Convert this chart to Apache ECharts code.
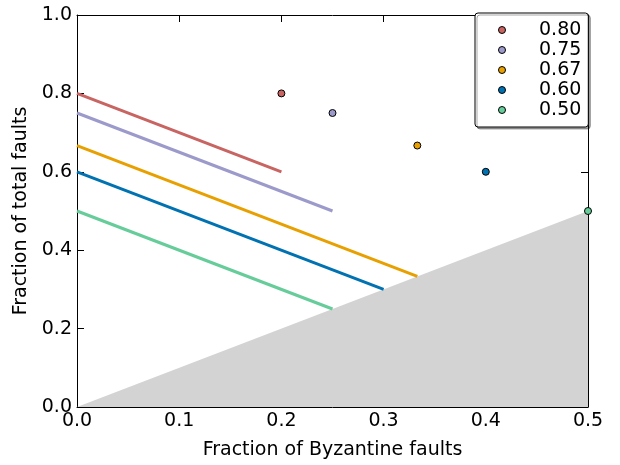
<!DOCTYPE html>
<html>
<head>
    <meta charset="utf-8">
    <title>Byzantine faults</title>
    <script src="https://cdn.jsdelivr.net/npm/echarts@6/dist/echarts.min.js"></script>
</head>
<body style="margin:0">
    <div id="main" style="width: 620px;height:465px;"></div>
    <script>
        // legend names, colours and the data
        var names = ['0.80', '0.75', '0.67', '0.60', '0.50'];
        var colors = ['#c86462', '#9c9acb', '#e8a000', '#0072b2', '#66cc99'];
        var lineStarts = [[0, 0.8], [0, 0.75], [0, 0.667], [0, 0.6], [0, 0.5]];
        var lineEnds = [[0.2, 0.6], [0.25, 0.5], [0.333, 0.333], [0.3, 0.3], [0.25, 0.25]];
        var points = [[0.2, 0.8], [0.25, 0.75], [0.333, 0.667], [0.4, 0.6], [0.5, 0.5]];
        var shade = [[0, 0], [0.5, 0.5]];
        var xTicks = [0, 0.1, 0.2, 0.3, 0.4, 0.5];
        var yTicks = [0, 0.2, 0.4, 0.6, 0.8, 1.0];

        var font = 'DejaVu Sans';
        var chart = echarts.init(document.getElementById('main'));

        var tickStyle = { inside: true, length: 7, lineStyle: { color: '#000' } };
        var lineAx = { onZero: false, lineStyle: { color: '#000', width: 1 } };
        var lbl = { color: '#000', fontFamily: font, fontSize: 19, margin: 5,
            formatter: function (v) { return v.toFixed(1); } };

        var series = [{
            name: 'shade',
            type: 'line',
            data: shade,
            symbol: 'none',
            lineStyle: { width: 0 },
            areaStyle: { color: '#d3d3d3', opacity: 1 },
            silent: true,
            z: 1
        }];
        names.forEach(function (n, i) {
            series.push({
                name: 'line ' + n,
                type: 'line',
                data: [lineStarts[i], lineEnds[i]],
                symbol: 'none',
                lineStyle: { color: colors[i], width: 3 },
                z: 2
            });
        });
        names.forEach(function (n, i) {
            series.push({
                name: n,
                type: 'scatter',
                data: [points[i]],
                symbolSize: 7,
                itemStyle: { color: colors[i], borderColor: '#000', borderWidth: 1, opacity: 1 },
                z: 3
            });
        });

        var option = {
            backgroundColor: '#fff',
            animation: false,
            grid: { left: 77, right: 32, top: 15, bottom: 54 },
            legend: {
                data: names,
                orient: 'vertical',
                left: 475,
                top: 13,
                icon: 'circle',
                itemWidth: 44,
                itemHeight: 7,
                itemGap: 0,
                padding: [7, 7, 7, 23],
                backgroundColor: '#fff',
                borderColor: '#000',
                borderWidth: 1,
                borderRadius: 3,
                shadowColor: 'rgba(0,0,0,0.35)',
                shadowBlur: 0,
                shadowOffsetX: 2,
                shadowOffsetY: 2,
                itemStyle: { borderColor: '#000', borderWidth: 1 },
                formatter: '{t|{name}}',
                textStyle: {
                    color: '#000', fontFamily: font, fontSize: 19, lineHeight: 20,
                    rich: { t: { fontFamily: font, fontSize: 19, lineHeight: 20, padding: [0, 0, 0, 10] } }
                }
            },
            xAxis: [{
                type: 'value',
                min: xTicks[0], max: xTicks[xTicks.length - 1], interval: 0.1,
                name: 'Fraction of Byzantine faults',
                nameLocation: 'middle',
                nameGap: 34,
                nameTextStyle: { color: '#000', fontFamily: font, fontSize: 19 },
                axisLine: lineAx,
                axisTick: tickStyle,
                axisLabel: lbl,
                splitLine: { show: false }
            }, {
                type: 'value', position: 'top',
                min: xTicks[0], max: xTicks[xTicks.length - 1], interval: 0.1,
                axisLine: lineAx, axisTick: tickStyle,
                axisLabel: { show: false }, splitLine: { show: false }
            }],
            yAxis: [{
                type: 'value',
                min: yTicks[0], max: yTicks[yTicks.length - 1], interval: 0.2,
                name: 'Fraction of total faults',
                nameLocation: 'middle',
                nameGap: 29,
                nameTextStyle: { color: '#000', fontFamily: font, fontSize: 19 },
                axisLine: lineAx,
                axisTick: tickStyle,
                axisLabel: lbl,
                splitLine: { show: false }
            }, {
                type: 'value', position: 'right',
                min: yTicks[0], max: yTicks[yTicks.length - 1], interval: 0.2,
                axisLine: lineAx, axisTick: tickStyle,
                axisLabel: { show: false }, splitLine: { show: false }
            }],
            series: series
        };
        chart.setOption(option);
    </script>
</body>
</html>
